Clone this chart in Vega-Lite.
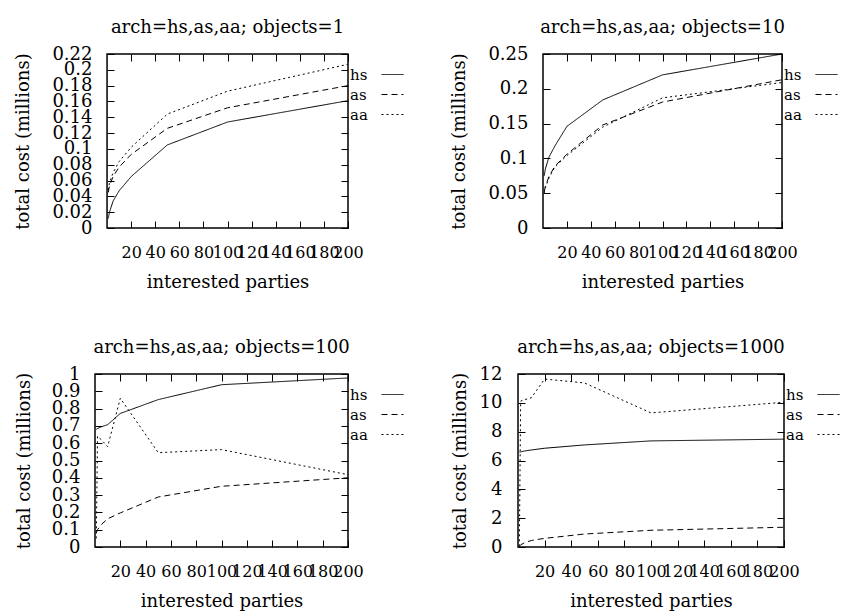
{
  "$schema": "https://vega.github.io/schema/vega-lite/v6.json",
  "padding": {"left": 14, "top": 18, "right": 0, "bottom": 0},
  "datasets": {
    "costs": [
      {"objects": 1, "arch": "hs", "parties": 1, "cost": 0.012},
      {"objects": 1, "arch": "hs", "parties": 2, "cost": 0.020},
      {"objects": 1, "arch": "hs", "parties": 5, "cost": 0.034},
      {"objects": 1, "arch": "hs", "parties": 10, "cost": 0.047},
      {"objects": 1, "arch": "hs", "parties": 20, "cost": 0.065},
      {"objects": 1, "arch": "hs", "parties": 50, "cost": 0.105},
      {"objects": 1, "arch": "hs", "parties": 100, "cost": 0.134},
      {"objects": 1, "arch": "hs", "parties": 200, "cost": 0.161},
      {"objects": 1, "arch": "as", "parties": 1, "cost": 0.045},
      {"objects": 1, "arch": "as", "parties": 2, "cost": 0.053},
      {"objects": 1, "arch": "as", "parties": 5, "cost": 0.065},
      {"objects": 1, "arch": "as", "parties": 10, "cost": 0.077},
      {"objects": 1, "arch": "as", "parties": 20, "cost": 0.093},
      {"objects": 1, "arch": "as", "parties": 50, "cost": 0.126},
      {"objects": 1, "arch": "as", "parties": 100, "cost": 0.152},
      {"objects": 1, "arch": "as", "parties": 200, "cost": 0.180},
      {"objects": 1, "arch": "aa", "parties": 1, "cost": 0.048},
      {"objects": 1, "arch": "aa", "parties": 2, "cost": 0.057},
      {"objects": 1, "arch": "aa", "parties": 5, "cost": 0.070},
      {"objects": 1, "arch": "aa", "parties": 10, "cost": 0.084},
      {"objects": 1, "arch": "aa", "parties": 20, "cost": 0.102},
      {"objects": 1, "arch": "aa", "parties": 50, "cost": 0.144},
      {"objects": 1, "arch": "aa", "parties": 100, "cost": 0.173},
      {"objects": 1, "arch": "aa", "parties": 200, "cost": 0.207},
      {"objects": 10, "arch": "hs", "parties": 1, "cost": 0.075},
      {"objects": 10, "arch": "hs", "parties": 2, "cost": 0.085},
      {"objects": 10, "arch": "hs", "parties": 5, "cost": 0.102},
      {"objects": 10, "arch": "hs", "parties": 10, "cost": 0.118},
      {"objects": 10, "arch": "hs", "parties": 20, "cost": 0.146},
      {"objects": 10, "arch": "hs", "parties": 50, "cost": 0.184},
      {"objects": 10, "arch": "hs", "parties": 100, "cost": 0.220},
      {"objects": 10, "arch": "hs", "parties": 200, "cost": 0.250},
      {"objects": 10, "arch": "as", "parties": 1, "cost": 0.052},
      {"objects": 10, "arch": "as", "parties": 2, "cost": 0.060},
      {"objects": 10, "arch": "as", "parties": 5, "cost": 0.074},
      {"objects": 10, "arch": "as", "parties": 10, "cost": 0.089},
      {"objects": 10, "arch": "as", "parties": 20, "cost": 0.106},
      {"objects": 10, "arch": "as", "parties": 50, "cost": 0.148},
      {"objects": 10, "arch": "as", "parties": 100, "cost": 0.181},
      {"objects": 10, "arch": "as", "parties": 200, "cost": 0.213},
      {"objects": 10, "arch": "aa", "parties": 1, "cost": 0.050},
      {"objects": 10, "arch": "aa", "parties": 2, "cost": 0.058},
      {"objects": 10, "arch": "aa", "parties": 5, "cost": 0.072},
      {"objects": 10, "arch": "aa", "parties": 10, "cost": 0.088},
      {"objects": 10, "arch": "aa", "parties": 20, "cost": 0.104},
      {"objects": 10, "arch": "aa", "parties": 50, "cost": 0.145},
      {"objects": 10, "arch": "aa", "parties": 100, "cost": 0.187},
      {"objects": 10, "arch": "aa", "parties": 200, "cost": 0.209},
      {"objects": 100, "arch": "hs", "parties": 1, "cost": 0.680},
      {"objects": 100, "arch": "hs", "parties": 2, "cost": 0.685},
      {"objects": 100, "arch": "hs", "parties": 5, "cost": 0.695},
      {"objects": 100, "arch": "hs", "parties": 10, "cost": 0.707},
      {"objects": 100, "arch": "hs", "parties": 20, "cost": 0.772},
      {"objects": 100, "arch": "hs", "parties": 50, "cost": 0.852},
      {"objects": 100, "arch": "hs", "parties": 100, "cost": 0.938},
      {"objects": 100, "arch": "hs", "parties": 200, "cost": 0.977},
      {"objects": 100, "arch": "as", "parties": 1, "cost": 0.080},
      {"objects": 100, "arch": "as", "parties": 2, "cost": 0.100},
      {"objects": 100, "arch": "as", "parties": 5, "cost": 0.130},
      {"objects": 100, "arch": "as", "parties": 10, "cost": 0.163},
      {"objects": 100, "arch": "as", "parties": 20, "cost": 0.197},
      {"objects": 100, "arch": "as", "parties": 50, "cost": 0.289},
      {"objects": 100, "arch": "as", "parties": 100, "cost": 0.351},
      {"objects": 100, "arch": "as", "parties": 200, "cost": 0.400},
      {"objects": 100, "arch": "aa", "parties": 1, "cost": 0.050},
      {"objects": 100, "arch": "aa", "parties": 2, "cost": 0.640},
      {"objects": 100, "arch": "aa", "parties": 5, "cost": 0.620},
      {"objects": 100, "arch": "aa", "parties": 10, "cost": 0.580},
      {"objects": 100, "arch": "aa", "parties": 20, "cost": 0.860},
      {"objects": 100, "arch": "aa", "parties": 50, "cost": 0.545},
      {"objects": 100, "arch": "aa", "parties": 100, "cost": 0.563},
      {"objects": 100, "arch": "aa", "parties": 200, "cost": 0.418},
      {"objects": 1000, "arch": "hs", "parties": 1, "cost": 6.58},
      {"objects": 1000, "arch": "hs", "parties": 2, "cost": 6.60},
      {"objects": 1000, "arch": "hs", "parties": 5, "cost": 6.66},
      {"objects": 1000, "arch": "hs", "parties": 10, "cost": 6.73},
      {"objects": 1000, "arch": "hs", "parties": 20, "cost": 6.85},
      {"objects": 1000, "arch": "hs", "parties": 50, "cost": 7.08},
      {"objects": 1000, "arch": "hs", "parties": 100, "cost": 7.36},
      {"objects": 1000, "arch": "hs", "parties": 200, "cost": 7.48},
      {"objects": 1000, "arch": "as", "parties": 1, "cost": 0.05},
      {"objects": 1000, "arch": "as", "parties": 2, "cost": 0.15},
      {"objects": 1000, "arch": "as", "parties": 5, "cost": 0.30},
      {"objects": 1000, "arch": "as", "parties": 10, "cost": 0.45},
      {"objects": 1000, "arch": "as", "parties": 20, "cost": 0.60},
      {"objects": 1000, "arch": "as", "parties": 50, "cost": 0.90},
      {"objects": 1000, "arch": "as", "parties": 100, "cost": 1.16},
      {"objects": 1000, "arch": "as", "parties": 200, "cost": 1.37},
      {"objects": 1000, "arch": "aa", "parties": 1, "cost": 0.05},
      {"objects": 1000, "arch": "aa", "parties": 2, "cost": 10.12},
      {"objects": 1000, "arch": "aa", "parties": 5, "cost": 10.22},
      {"objects": 1000, "arch": "aa", "parties": 10, "cost": 10.35},
      {"objects": 1000, "arch": "aa", "parties": 20, "cost": 11.65},
      {"objects": 1000, "arch": "aa", "parties": 50, "cost": 11.38},
      {"objects": 1000, "arch": "aa", "parties": 100, "cost": 9.30},
      {"objects": 1000, "arch": "aa", "parties": 200, "cost": 10.04}
    ]
  },
  "data": {"name": "costs"},
  "spacing": 46,
  "resolve": {"scale": {"strokeDash": "independent"}, "legend": {"strokeDash": "independent"}},
  "vconcat": [
    {
      "spacing": 34,
      "resolve": {"scale": {"strokeDash": "independent"}, "legend": {"strokeDash": "independent"}},
      "hconcat": [
        {
          "title": {"text": "arch=hs,as,aa; objects=1", "dx": 6},
          "width": 253, "height": 174,
          "view": {"stroke": null},
          "transform": [{"filter": "datum.objects == 1"}],
          "resolve": {"axis": {"x": "independent", "y": "independent"}},
          "layer": [
            {
              "mark": {"type": "line"},
              "encoding": {
                "x": {"field": "parties", "type": "quantitative", "scale": {"domain": [-10, 200], "nice": false},
                      "axis": {"orient": "bottom", "values": [20, 40, 60, 80, 100, 120, 140, 160, 180, 200], "title": "interested parties", "titleX": 132.5, "labelPadding": 23, "minExtent": 33, "maxExtent": 33, "titlePadding": 12}},
                "y": {"field": "cost", "type": "quantitative", "scale": {"domain": [0, 0.22], "nice": false},
                      "axis": {"orient": "left", "offset": -12, "values": [0, 0.02, 0.04, 0.06, 0.08, 0.1, 0.12, 0.14, 0.16, 0.18, 0.2, 0.22], "format": "~g", "title": "total cost (millions)", "labelPadding": 22, "minExtent": 75, "maxExtent": 75, "titlePadding": 0}},
                "strokeDash": {"field": "arch", "type": "nominal", "scale": {"domain": ["hs", "as", "aa"], "range": [[1, 0], [6, 4], [2, 3]]}}
              }
            },
            {
              "mark": {"type": "line", "opacity": 0},
              "encoding": {
                "x": {"field": "parties", "type": "quantitative", "scale": {"domain": [-10, 200], "nice": false},
                      "axis": {"orient": "top", "values": [20, 40, 60, 80, 100, 120, 140, 160, 180, 200], "labels": false, "title": null, "minExtent": 0, "maxExtent": 0}},
                "y": {"field": "cost", "type": "quantitative", "scale": {"domain": [0, 0.22], "nice": false},
                      "axis": {"orient": "right", "values": [0, 0.02, 0.04, 0.06, 0.08, 0.1, 0.12, 0.14, 0.16, 0.18, 0.2, 0.22], "labels": false, "title": null, "minExtent": 0, "maxExtent": 0}}
              }
            },
            {
              "data": {"values": [{"objects": 1, "x0": 0, "x1": 200, "y0": 0, "y1": 0.22}]},
              "mark": {"type": "rect", "fillOpacity": 0, "stroke": "black", "strokeWidth": 1.5},
              "encoding": {
                "x": {"field": "x0", "type": "quantitative", "scale": {"domain": [-10, 200], "nice": false}, "axis": null},
                "x2": {"field": "x1"},
                "y": {"field": "y0", "type": "quantitative", "scale": {"domain": [0, 0.22], "nice": false}, "axis": null},
                "y2": {"field": "y1"}
              }
            }
          ]
        },
        {
          "title": {"text": "arch=hs,as,aa; objects=10"},
          "width": 239, "height": 174,
          "transform": [{"filter": "datum.objects == 10"}],
          "resolve": {"axis": {"x": "independent", "y": "independent"}},
          "layer": [
            {
              "mark": {"type": "line"},
              "encoding": {
                "x": {"field": "parties", "type": "quantitative", "scale": {"domain": [0, 200], "nice": false},
                      "axis": {"orient": "bottom", "values": [20, 40, 60, 80, 100, 120, 140, 160, 180, 200], "title": "interested parties", "labelPadding": 23, "minExtent": 33, "maxExtent": 33, "titlePadding": 12}},
                "y": {"field": "cost", "type": "quantitative", "scale": {"domain": [0, 0.25], "nice": false},
                      "axis": {"orient": "left", "values": [0, 0.05, 0.1, 0.15, 0.2, 0.25], "format": "~g", "title": "total cost (millions)", "labelPadding": 22, "minExtent": 75, "maxExtent": 75, "titlePadding": 0}},
                "strokeDash": {"field": "arch", "type": "nominal", "scale": {"domain": ["hs", "as", "aa"], "range": [[1, 0], [6, 4], [2, 3]]}}
              }
            },
            {
              "mark": {"type": "line", "opacity": 0},
              "encoding": {
                "x": {"field": "parties", "type": "quantitative", "scale": {"domain": [0, 200], "nice": false},
                      "axis": {"orient": "top", "values": [20, 40, 60, 80, 100, 120, 140, 160, 180, 200], "labels": false, "title": null, "minExtent": 0, "maxExtent": 0}},
                "y": {"field": "cost", "type": "quantitative", "scale": {"domain": [0, 0.25], "nice": false},
                      "axis": {"orient": "right", "values": [0, 0.05, 0.1, 0.15, 0.2, 0.25], "labels": false, "title": null, "minExtent": 0, "maxExtent": 0}}
              }
            }
          ]
        }
      ]
    },
    {
      "spacing": 34,
      "resolve": {"scale": {"strokeDash": "independent"}, "legend": {"strokeDash": "independent"}},
      "hconcat": [
        {
          "title": {"text": "arch=hs,as,aa; objects=100"},
          "width": 253, "height": 173,
          "transform": [{"filter": "datum.objects == 100"}],
          "resolve": {"axis": {"x": "independent", "y": "independent"}},
          "layer": [
            {
              "mark": {"type": "line"},
              "encoding": {
                "x": {"field": "parties", "type": "quantitative", "scale": {"domain": [0, 200], "nice": false},
                      "axis": {"orient": "bottom", "values": [20, 40, 60, 80, 100, 120, 140, 160, 180, 200], "title": "interested parties", "labelPadding": 23, "minExtent": 33, "maxExtent": 33, "titlePadding": 12}},
                "y": {"field": "cost", "type": "quantitative", "scale": {"domain": [0, 1], "nice": false},
                      "axis": {"orient": "left", "values": [0, 0.1, 0.2, 0.3, 0.4, 0.5, 0.6, 0.7, 0.8, 0.9, 1], "format": "~g", "title": "total cost (millions)", "labelPadding": 22, "minExtent": 62, "maxExtent": 62, "titlePadding": 0}},
                "strokeDash": {"field": "arch", "type": "nominal", "scale": {"domain": ["hs", "as", "aa"], "range": [[1, 0], [6, 4], [2, 3]]}}
              }
            },
            {
              "mark": {"type": "line", "opacity": 0},
              "encoding": {
                "x": {"field": "parties", "type": "quantitative", "scale": {"domain": [0, 200], "nice": false},
                      "axis": {"orient": "top", "values": [20, 40, 60, 80, 100, 120, 140, 160, 180, 200], "labels": false, "title": null, "minExtent": 0, "maxExtent": 0}},
                "y": {"field": "cost", "type": "quantitative", "scale": {"domain": [0, 1], "nice": false},
                      "axis": {"orient": "right", "values": [0, 0.1, 0.2, 0.3, 0.4, 0.5, 0.6, 0.7, 0.8, 0.9, 1], "labels": false, "title": null, "minExtent": 0, "maxExtent": 0}}
              }
            }
          ]
        },
        {
          "title": {"text": "arch=hs,as,aa; objects=1000"},
          "width": 266, "height": 173,
          "transform": [{"filter": "datum.objects == 1000"}],
          "resolve": {"axis": {"x": "independent", "y": "independent"}},
          "layer": [
            {
              "mark": {"type": "line"},
              "encoding": {
                "x": {"field": "parties", "type": "quantitative", "scale": {"domain": [0, 200], "nice": false},
                      "axis": {"orient": "bottom", "values": [20, 40, 60, 80, 100, 120, 140, 160, 180, 200], "title": "interested parties", "labelPadding": 23, "minExtent": 33, "maxExtent": 33, "titlePadding": 12}},
                "y": {"field": "cost", "type": "quantitative", "scale": {"domain": [0, 12], "nice": false},
                      "axis": {"orient": "left", "values": [0, 2, 4, 6, 8, 10, 12], "format": "~g", "title": "total cost (millions)", "labelPadding": 23, "minExtent": 49, "maxExtent": 49, "titlePadding": 0}},
                "strokeDash": {"field": "arch", "type": "nominal", "scale": {"domain": ["hs", "as", "aa"], "range": [[1, 0], [6, 4], [2, 3]]}}
              }
            },
            {
              "mark": {"type": "line", "opacity": 0},
              "encoding": {
                "x": {"field": "parties", "type": "quantitative", "scale": {"domain": [0, 200], "nice": false},
                      "axis": {"orient": "top", "values": [20, 40, 60, 80, 100, 120, 140, 160, 180, 200], "labels": false, "title": null, "minExtent": 0, "maxExtent": 0}},
                "y": {"field": "cost", "type": "quantitative", "scale": {"domain": [0, 12], "nice": false},
                      "axis": {"orient": "right", "values": [0, 2, 4, 6, 8, 10, 12], "labels": false, "title": null, "minExtent": 0, "maxExtent": 0}}
              }
            }
          ]
        }
      ]
    }
  ],
  "config": {
    "font": "DejaVu Serif",
    "view": {"stroke": "black", "strokeWidth": 1.5},
    "line": {"color": "black", "strokeWidth": 1},
    "axis": {
      "labelFont": "DejaVu Serif", "titleFont": "DejaVu Serif",
      "labelColor": "black", "titleColor": "black", "tickColor": "black",
      "titleFontWeight": "normal", "labelFontSize": 16, "titleFontSize": 18,
      "grid": false, "domain": false, "tickSize": -7, "tickWidth": 1,
      "labelOverlap": false, "labelFlush": false
    },
    "axisY": {"labelFontSize": 18},
    "title": {"font": "DejaVu Serif", "fontSize": 18, "fontWeight": "normal", "color": "black", "anchor": "middle", "frame": "group", "offset": 8},
    "legend": {
      "orient": "right", "offset": -10, "padding": 9, "title": null,
      "symbolType": "stroke", "symbolSize": 484, "symbolStrokeWidth": 1, "symbolStrokeColor": "black",
      "symbolOffset": 32, "labelOffset": -54, "labelFont": "DejaVu Serif", "labelFontSize": 15, "labelColor": "black",
      "rowPadding": -2
    }
  }
}
